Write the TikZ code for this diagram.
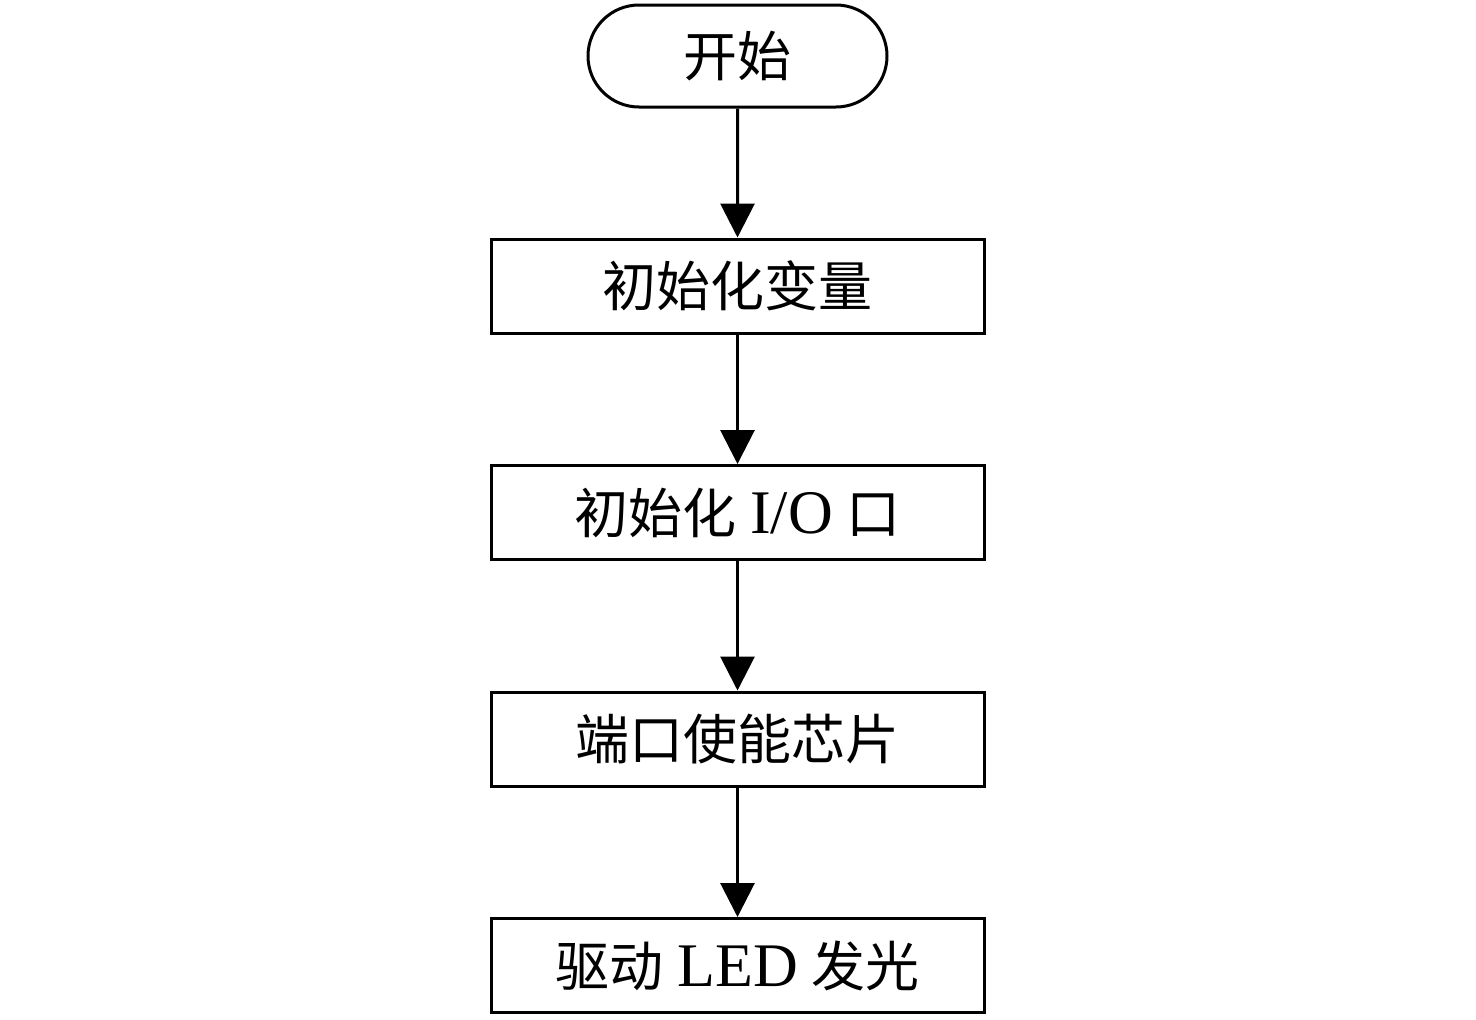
\documentclass[tikz,border=0pt]{standalone}
\usepackage{fontspec}
\setmainfont{Liberation Serif}
\newfontfamily\cjk{Noto Sans CJK SC}
\usetikzlibrary{arrows.meta,shapes.misc}
\tikzset{
  base/.style={draw=black,line width=3pt,minimum width=493pt,minimum height=94pt,inner sep=0pt,
    font=\fontsize{54}{60}\selectfont},
  procbox/.style={base,rectangle},
  termbox/.style={base,rounded rectangle,minimum width=299pt,minimum height=102pt},
  flow/.style={line width=3pt,-{Triangle[length=34pt,width=34pt]}},
}
\newcommand{\lat}[1]{{\fontsize{62}{66}\selectfont #1}}
\begin{document}
\begin{tikzpicture}[x=1pt,y=-1pt]
\useasboundingbox (0,0) rectangle (1476,1020);
\node[termbox] (start) at (737.5,56) {\cjk 开始};
\node[procbox] (b1) at (737.5,286) {\cjk 初始化变量};
\node[procbox] (b2) at (737.5,512.5) {{\cjk 初始化} \lat{I/O} {\cjk 口}};
\node[procbox] (b3) at (737.5,739) {\cjk 端口使能芯片};
\node[procbox] (b4) at (737.5,965.5) {{\cjk 驱动} \lat{LED} {\cjk 发光}};
\draw[flow] (start) -- (b1);
\draw[flow] (b1) -- (b2);
\draw[flow] (b2) -- (b3);
\draw[flow] (b3) -- (b4);
\end{tikzpicture}
\end{document}
